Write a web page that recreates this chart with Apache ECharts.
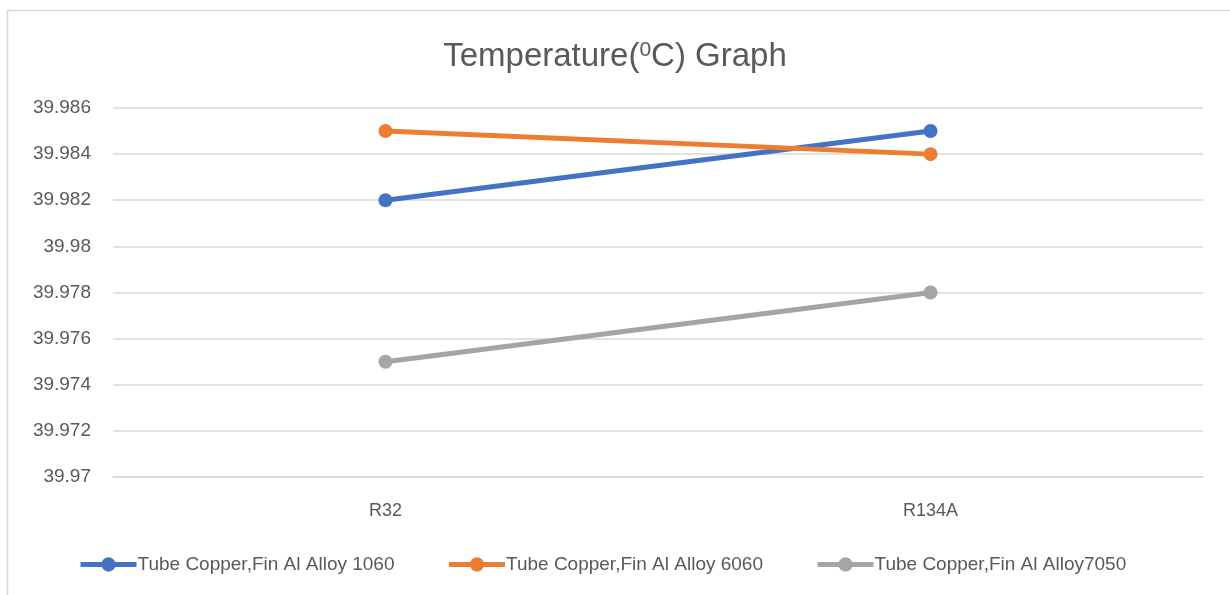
<!DOCTYPE html>
<html><head><meta charset="utf-8">
<script src="https://cdn.jsdelivr.net/npm/echarts@6/dist/echarts.min.js"></script>
<style>html,body{margin:0;padding:0;background:#fff}#c{width:1230px;height:595px}</style>
</head><body><div id="c"></div>
<script>
const categories = ['R32', 'R134A'];
const seriesNames = ['Tube Copper,Fin Al Alloy 1060', 'Tube Copper,Fin Al Alloy 6060', 'Tube Copper,Fin Al Alloy7050'];
const alloy1060 = [39.982, 39.985];
const alloy6060 = [39.985, 39.984];
const alloy7050 = [39.975, 39.978];
const colors = ['#4472C4', '#ED7D31', '#A5A5A5'];
const yMin = 39.970, yMax = 39.986, yStep = 0.002;

const chart = echarts.init(document.getElementById('c'));
const font = 'Liberation Sans, Arial, sans-serif';
function mk(name, data, color) {
  return {
    name, type: 'line', data, symbol: 'circle', symbolSize: 14,
    lineStyle: { width: 5, color }, itemStyle: { color },
    emphasis: { disabled: true }
  };
}
chart.setOption({
  animation: false,
  graphic: [{
    type: 'rect', shape: { x: 7.5, y: 10.5, width: 1240, height: 600 },
    style: { fill: 'none', stroke: '#D9D9D9', lineWidth: 1.5 }, silent: true
  }],
  title: {
    text: '{a|Temperature(}{s|0}{a|C) Graph}',
    left: 'center', top: 35,
    textStyle: {
      fontWeight: 'normal',
      rich: {
        a: { fontFamily: font, fontSize: 33, fontWeight: 'normal', color: '#595959' },
        s: { fontFamily: font, fontSize: 21, fontWeight: 'normal', color: '#595959', verticalAlign: 'top', padding: [0, 0, 13, 0] }
      }
    }
  },
  legend: {
    bottom: 16, left: 73, itemWidth: 56, itemHeight: 18, itemGap: 52,
    lineStyle: { width: 5 },
    textStyle: { fontFamily: font, fontSize: 19, color: '#595959', padding: [0, 0, 0, -4] },
    data: seriesNames
  },
  grid: { left: 113, right: 27, top: 108, bottom: 118 },
  xAxis: {
    type: 'category', data: categories, boundaryGap: true,
    axisLine: { lineStyle: { color: '#D9D9D9', width: 1.5 } },
    axisTick: { show: false },
    axisLabel: { fontFamily: font, fontSize: 18, color: '#595959', margin: 25 }
  },
  yAxis: {
    type: 'value', min: yMin, max: yMax, interval: yStep,
    axisLine: { show: false }, axisTick: { show: false },
    splitLine: { lineStyle: { color: '#D9D9D9', width: 1.5 } },
    axisLabel: {
      fontFamily: font, fontSize: 19, color: '#595959', margin: 22,
      formatter: v => String(parseFloat(v.toFixed(3)))
    }
  },
  series: [
    mk(seriesNames[0], alloy1060, colors[0]),
    mk(seriesNames[1], alloy6060, colors[1]),
    mk(seriesNames[2], alloy7050, colors[2])
  ]
});
</script></body></html>
